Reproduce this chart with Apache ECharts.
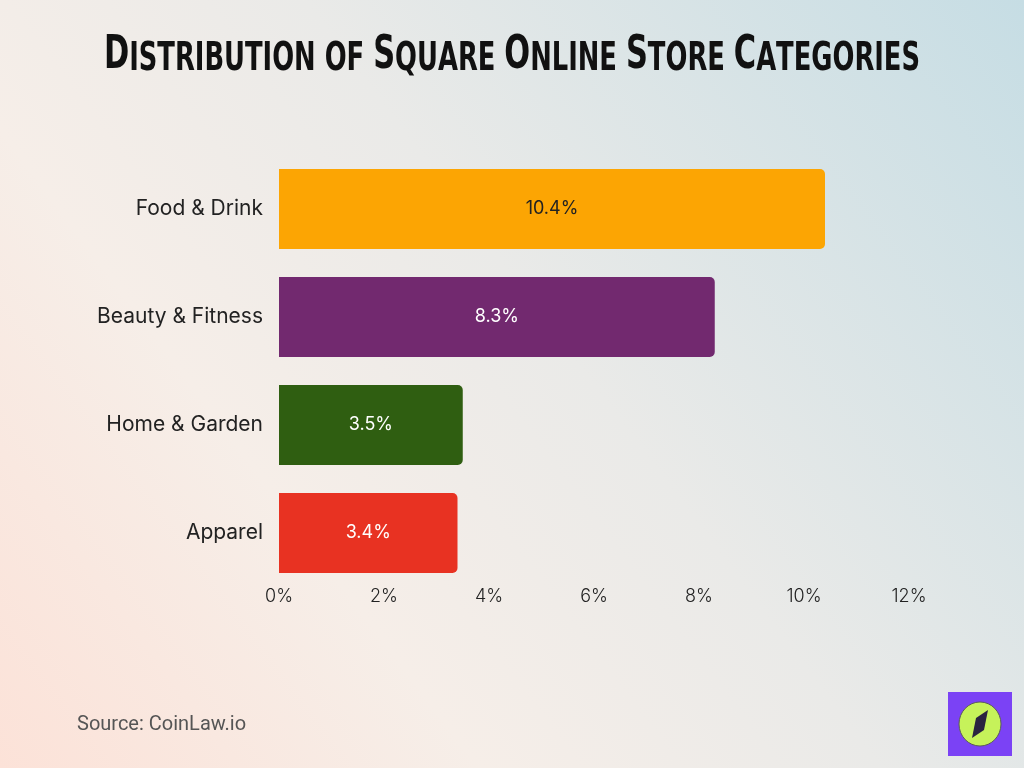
<!DOCTYPE html>
<html><head><meta charset="utf-8">
<script src="https://cdn.jsdelivr.net/npm/echarts@6/dist/echarts.min.js"></script>
<style>html,body{margin:0;padding:0;}#c{width:1024px;height:768px;}</style>
</head><body><div id="c"></div>
<script>
const categories = ["Food & Drink", "Beauty & Fitness", "Home & Garden", "Apparel"];
const values = [10.4, 8.3, 3.5, 3.4];
const barColors = ["#FCA503", "#72296F", "#2F5E11", "#E83222"];
const labelColors = ["#222222", "#ffffff", "#ffffff", "#ffffff"];
const xTicks = [0, 2, 4, 6, 8, 10, 12];
const titleText = "Distribution of Square Online Store Categories";

// small-caps style title as rich text
function smallCaps(t) {
  let out = "";
  for (const ch of t) {
    if (ch === " ") out += "{s| }";
    else if (ch === ch.toUpperCase() && ch !== ch.toLowerCase()) out += "{b|" + ch + "}";
    else out += "{s|" + ch.toUpperCase() + "}";
  }
  return out;
}

const chart = echarts.init(document.getElementById('c'));
chart.setOption({
  backgroundColor: {
    type: 'linear', x: 0, y: 1, x2: 1, y2: 0,
    colorStops: [
      {offset: 0, color: '#FCE2D8'},
      {offset: 0.3, color: '#F6EEE8'},
      {offset: 0.55, color: '#EAEAE8'},
      {offset: 1, color: '#C6DDE4'}
    ]
  },
  grid: {left: 279, right: 115, top: 155, bottom: 181, containLabel: false},
  xAxis: {
    type: 'value', min: 0, max: 12, interval: 2,
    axisLine: {show: false}, axisTick: {show: false}, splitLine: {show: false},
    axisLabel: {formatter: v => xTicks.includes(v) ? v + '%' : '', fontFamily: 'Inter', fontWeight: 300, fontSize: 18, color: '#222', margin: 1}
  },
  yAxis: {
    type: 'category', data: categories, inverse: true,
    axisLine: {show: false}, axisTick: {show: false},
    axisLabel: {fontFamily: 'Inter', fontSize: 21, color: '#222', margin: 16}
  },
  series: [{
    type: 'bar',
    data: values.map((v, i) => ({
      value: v,
      itemStyle: {color: barColors[i]},
      label: {color: labelColors[i]}
    })),
    barWidth: '74%',
    itemStyle: {borderRadius: [0, 5, 5, 0]},
    label: {show: true, position: 'inside', formatter: p => p.value + '%', fontFamily: 'Inter', fontSize: 18}
  }],
  graphic: [
    {type: 'text', x: 512, y: 56, scaleX: 0.735, scaleY: 1,
      style: {
        text: smallCaps(titleText), textAlign: 'center', textVerticalAlign: 'middle',
        rich: {
          b: {fontFamily: 'DejaVu Sans Condensed', fontWeight: 'bold', fontSize: 46, fill: '#111', verticalAlign: 'bottom'},
          s: {fontFamily: 'DejaVu Sans Condensed', fontWeight: 'bold', fontSize: 39, fill: '#111', verticalAlign: 'bottom'}
        }
      }},
    {type: 'text', left: 77, top: 715, style: {text: 'Source: CoinLaw.io', fontFamily: 'Roboto', fontSize: 20, fill: '#555'}},
    {type: 'rect', shape: {x: 948, y: 692, width: 64, height: 64}, style: {fill: '#7B42F5'}},
    {type: 'ellipse', shape: {cx: 980, cy: 724, rx: 21, ry: 22}, style: {fill: '#C6F25A', stroke: '#5a5a5a', lineWidth: 1}},
    {type: 'polygon', shape: {points: [[988, 710], [984, 730], [972, 738], [976, 718]]}, style: {fill: '#2a2340'}}
  ]
});
</script></body></html>
